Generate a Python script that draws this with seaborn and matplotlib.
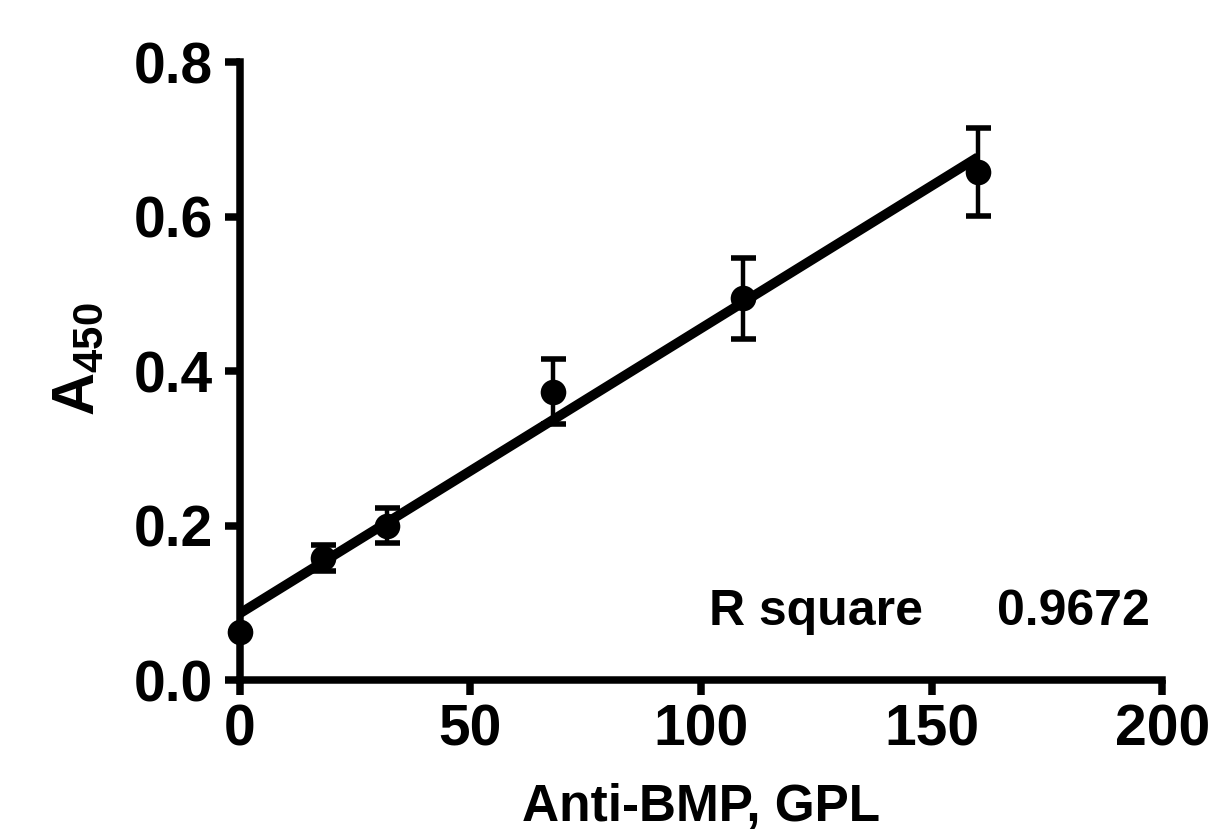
import numpy as np
import pandas as pd
import matplotlib
matplotlib.use("Agg")
import matplotlib.pyplot as plt
import seaborn as sns

# data
anti_bmp = [0, 18, 32, 68, 109, 160]
a450 = [0.062, 0.158, 0.200, 0.373, 0.494, 0.658]
a450_err = [0.0, 0.017, 0.023, 0.042, 0.052, 0.057]
r_square = "0.9672"

df = pd.DataFrame({"x": anti_bmp, "y": a450, "err": a450_err})

sns.set_theme(style="ticks", rc={"text.color": "black", "axes.labelcolor": "black",
                                 "xtick.color": "black", "ytick.color": "black",
                                 "axes.edgecolor": "black"})
plt.rcParams["font.family"] = ["Liberation Sans", "DejaVu Sans"]
plt.rcParams["font.weight"] = "bold"
plt.rcParams["mathtext.fontset"] = "custom"
plt.rcParams["mathtext.rm"] = "Liberation Sans:bold"
plt.rcParams["mathtext.bf"] = "Liberation Sans:bold"
plt.rcParams["mathtext.it"] = "Liberation Sans:bold"

fig = plt.figure(figsize=(12.16, 8.38), dpi=100)
ax = fig.add_axes([0.197, 0.1885, 0.759, 0.7375])

# linear fit line
sns.regplot(data=df, x="x", y="y", ci=None, scatter=False, truncate=True,
            line_kws=dict(color="black", lw=7, solid_capstyle="butt"), ax=ax)

# points + error bars
ax.errorbar(df["x"], df["y"], yerr=df["err"], fmt="none", ecolor="black",
            elinewidth=3.2, capsize=9, capthick=4, clip_on=False, zorder=3)
sns.scatterplot(data=df, x="x", y="y", color="black", s=340, edgecolor="black",
                linewidth=0, ax=ax, clip_on=False, zorder=4)

ax.set_xlim(0, 200)
ax.set_ylim(0, 0.8)
ax.set_xticks([0, 50, 100, 150, 200])
ax.set_yticks([0.0, 0.2, 0.4, 0.6, 0.8])
ax.set_yticklabels(["0.0", "0.2", "0.4", "0.6", "0.8"])

for s in ["left", "bottom"]:
    ax.spines[s].set_linewidth(5.4)
sns.despine(ax=ax)
ax.tick_params(axis="both", length=11, width=5.4, labelsize=41)
ax.tick_params(axis="x", pad=6)
ax.tick_params(axis="y", pad=8)
for lab in ax.get_xticklabels() + ax.get_yticklabels():
    lab.set_fontweight("bold")

ax.set_xlabel("Anti-BMP, GPL", fontsize=37, fontweight="bold", labelpad=18)
ax.set_ylabel(r"$\mathregular{A_{450}}$", fontsize=43, fontweight="bold")
ax.yaxis.set_label_coords(-0.145, 0.52)

ax.text(101.8, 0.088, "R square", fontsize=36, fontweight="bold",
        ha="left", va="center")
ax.text(197.2, 0.088, r_square, fontsize=36, fontweight="bold",
        ha="right", va="center")

fig.savefig("out.png", dpi=100)
